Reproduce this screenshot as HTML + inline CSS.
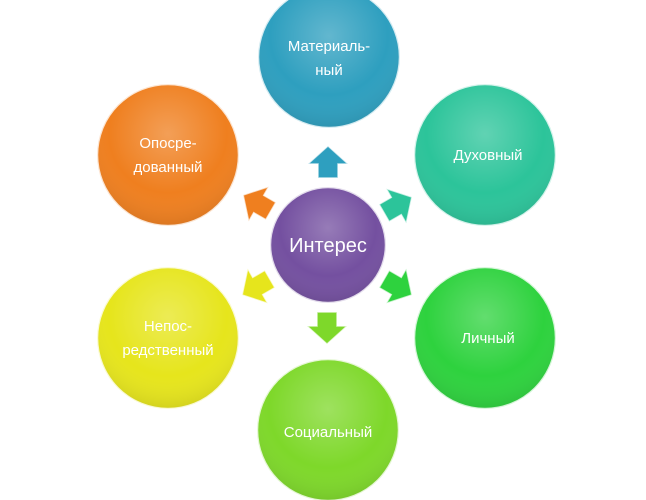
<!DOCTYPE html>
<html><head><meta charset="utf-8"><style>
html,body{margin:0;padding:0;background:#fff;width:646px;height:500px;overflow:hidden}
text{font-family:"Liberation Sans","DejaVu Sans",sans-serif;fill:#fff}
</style></head><body>
<svg width="646" height="500" viewBox="0 0 646 500" xmlns="http://www.w3.org/2000/svg">
<defs>
<radialGradient id="gl" cx="0.5" cy="0.35" r="0.7">
<stop offset="0" stop-color="#fff" stop-opacity="0.25"/>
<stop offset="0.6" stop-color="#fff" stop-opacity="0"/>
<stop offset="1" stop-color="#000" stop-opacity="0.12"/>
</radialGradient>
<g id="arr"><path d="M0,-16 L20,2 L10,2 L10,16 L-10,16 L-10,2 L-20,2 Z" stroke="#fff" stroke-width="1.5" stroke-opacity="0.7"/></g>
</defs>
<g stroke="#fff" stroke-width="2.5" stroke-opacity="0.8">
<circle cx="329" cy="57" r="71" fill="#2e9fbf"/>
<circle cx="485" cy="155" r="71" fill="#2cc49a"/>
<circle cx="485" cy="338" r="71" fill="#2ed23e"/>
<circle cx="328" cy="430" r="71" fill="#7ed82a"/>
<circle cx="168" cy="338" r="71" fill="#e6e51c"/>
<circle cx="168" cy="155" r="71" fill="#ef7f1f"/>
<circle cx="328" cy="245" r="58" fill="#7450a0"/>
</g>
<g fill="url(#gl)">
<circle cx="329" cy="57" r="70"/><circle cx="485" cy="155" r="70"/><circle cx="485" cy="338" r="70"/>
<circle cx="328" cy="430" r="70"/><circle cx="168" cy="338" r="70"/><circle cx="168" cy="155" r="70"/>
<circle cx="328" cy="245" r="57"/>
</g>
<use href="#arr" fill="#2e9fbf" transform="translate(328,162)"/>
<use href="#arr" fill="#2cc49a" transform="translate(398,205) rotate(60)"/>
<use href="#arr" fill="#2ed23e" transform="translate(398,287) rotate(120)"/>
<use href="#arr" fill="#7ed82a" transform="translate(327,328) rotate(180)"/>
<use href="#arr" fill="#e6e51c" transform="translate(256,287) rotate(240)"/>
<use href="#arr" fill="#ef7f1f" transform="translate(257,203) rotate(300)"/>
<g font-size="15" text-anchor="middle">
<text x="329" y="51">Материаль-</text><text x="329" y="75">ный</text>
<text x="488" y="160">Духовный</text>
<text x="488" y="343">Личный</text>
<text x="328" y="437">Социальный</text>
<text x="168" y="331">Непос-</text><text x="168" y="355">редственный</text>
<text x="168" y="148">Опосре-</text><text x="168" y="172">дованный</text>
<text x="328" y="252" font-size="20">Интерес</text>
</g>
</svg>
</body></html>
